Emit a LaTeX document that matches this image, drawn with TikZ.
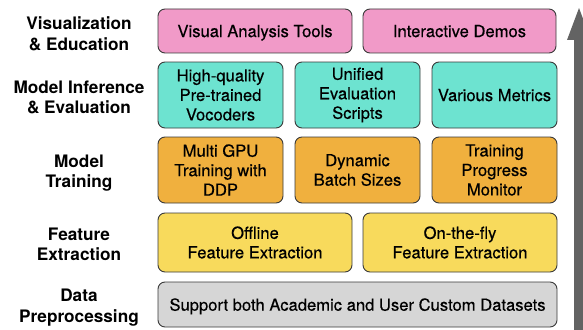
\documentclass[tikz,border=0pt]{standalone}
\usepackage{fontspec}
\setmainfont{TeX Gyre Heros}
\newfontfamily\boxfont[FakeBold=0.4]{TeX Gyre Heros}
\definecolor{cpink}{HTML}{F19AC8}
\definecolor{cteal}{HTML}{6DE3D0}
\definecolor{corange}{HTML}{F0B03E}
\definecolor{cyellow}{HTML}{F8DA5C}
\definecolor{cgray}{HTML}{D6D6D6}
\definecolor{cborder}{HTML}{3A3A3A}
\definecolor{carrow}{HTML}{636363}
\begin{document}
\begin{tikzpicture}[x=1pt,y=-1pt,
  box/.style={draw=cborder, line width=0.9pt, rounded corners=7pt, align=center, inner sep=0pt,
    font=\boxfont\fontsize{16.6}{19.5}\selectfont},
  one/.style={text depth=0pt},
  lab/.style={align=center, font=\fontsize{17.2}{20.5}\selectfont\bfseries}]
\useasboundingbox (0,0) rectangle (583,329);
\clip (0,0) rectangle (583,329);
% arrow
\fill[carrow] (574,340) -- (574,40) -- (567,40) -- (579,8) -- (591,40) -- (584,40) -- (584,340) -- cycle;
% row 1
\node[box, one, fill=cpink, minimum width=194pt, minimum height=44pt] (vat) at (255,31) {Visual Analysis Tools};
\node[box, one, fill=cpink, minimum width=193pt, minimum height=44pt] (idm) at (459.5,31) {Interactive Demos};
% row 2
\node[box, fill=cteal, minimum width=125pt, minimum height=66pt] (hq) at (220.5,95) {High-quality\\Pre-trained\\Vocoders};
\node[box, fill=cteal, minimum width=125pt, minimum height=66pt] (ues) at (357.5,95) {Unified\\Evaluation\\Scripts};
\node[box, one, fill=cteal, minimum width=125pt, minimum height=66pt] (vm) at (494.5,95) {Various Metrics};
% row 3
\node[box, fill=corange, minimum width=125pt, minimum height=66pt] (mg) at (220.5,170) {Multi GPU\\Training with\\DDP};
\node[box, fill=corange, minimum width=125pt, minimum height=66pt] (db) at (357.5,170) {Dynamic\\Batch Sizes};
\node[box, fill=corange, minimum width=125pt, minimum height=66pt] (tp) at (494.5,170) {Training\\Progress\\Monitor};
% row 4
\node[box, fill=cyellow, minimum width=194pt, minimum height=59pt] (ofe) at (255,242.5) {Offline\\Feature Extraction};
\node[box, fill=cyellow, minimum width=194pt, minimum height=59pt] (otf) at (460,242.5) {On-the-fly\\Feature Extraction};
% row 5
\node[box, one, fill=cgray, minimum width=399pt, minimum height=45pt] (sup) at (357.5,304.5) {Support both Academic and User Custom Datasets};
% labels
\node[lab] (l1) at (79,34) {Visualization\\\& Education};
\node[lab] (l2) at (79,97.5) {Model Inference\\\& Evaluation};
\node[lab] (l3) at (79,173) {Model\\Training};
\node[lab] (l4) at (79,244.5) {Feature\\Extraction};
\node[lab] (l5) at (79,307.5) {Data\\Preprocessing};
\end{tikzpicture}
\end{document}
